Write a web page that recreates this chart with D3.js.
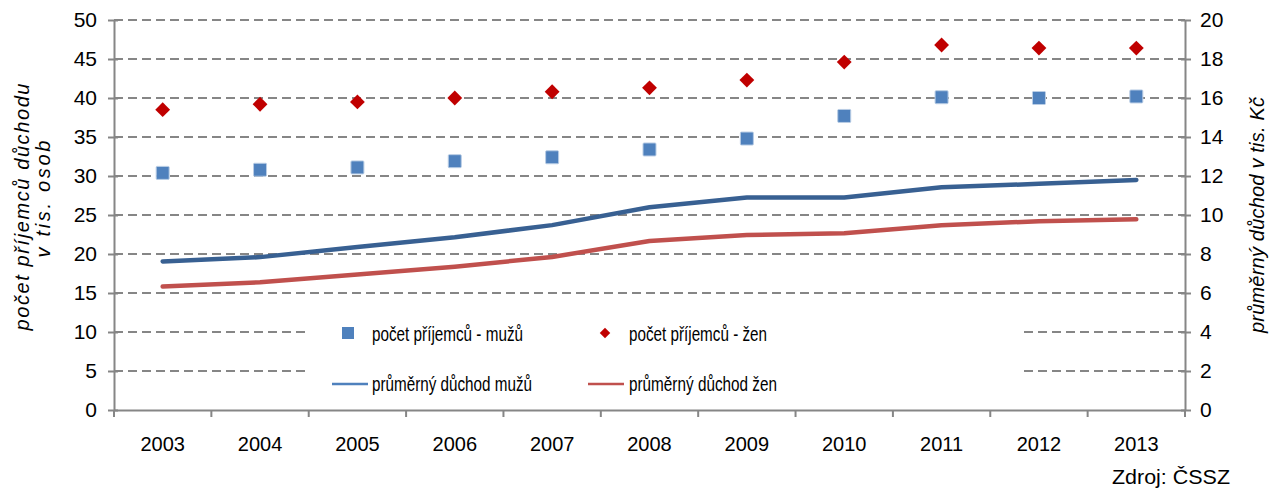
<!DOCTYPE html>
<html><head><meta charset="utf-8">
<script src="https://cdn.jsdelivr.net/npm/d3@7"></script>
<style>body{margin:0;background:#fff}svg{display:block;font-family:"Liberation Sans",Arial,sans-serif}</style>
</head><body>
<script>
const years = ["2003","2004","2005","2006","2007","2008","2009","2010","2011","2012","2013"];
const menCount = [30.4, 30.8, 31.1, 31.9, 32.4, 33.4, 34.8, 37.7, 40.1, 40.0, 40.2];
const womenCount = [38.5, 39.2, 39.5, 40.0, 40.8, 41.3, 42.3, 44.6, 46.8, 46.4, 46.4];
const menPension = [7.62, 7.84, 8.36, 8.86, 9.48, 10.4, 10.9, 10.9, 11.42, 11.6, 11.8];
const womenPension = [6.33, 6.55, 6.95, 7.35, 7.85, 8.67, 8.97, 9.07, 9.48, 9.68, 9.78];
const leftTicks = [0,5,10,15,20,25,30,35,40,45,50];
const rightTicks = [0,2,4,6,8,10,12,14,16,18,20];

const W=1269,H=488;
const FF="Liberation Sans, Arial, sans-serif";
const svg=d3.select("body").append("svg").attr("width",W).attr("height",H);
const x=d3.scaleBand().domain(years).range([114,1185]);
const yL=d3.scaleLinear().domain([0,50]).range([410,20]);
const yR=d3.scaleLinear().domain([0,20]).range([410,20]);
const grey="#868686";

// gridlines
svg.append("g").selectAll("line").data(leftTicks.filter(d=>d>0)).join("line")
 .attr("x1",114).attr("x2",1185).attr("y1",d=>yL(d)).attr("y2",d=>yL(d))
 .attr("stroke",grey).attr("stroke-width",2).attr("stroke-dasharray","9,5");

// legend background
svg.append("rect").attr("x",305).attr("y",316).attr("width",715).attr("height",80).attr("fill","#fff");

// left axis
const gL=svg.append("g").attr("transform","translate(114,0)")
 .call(d3.axisLeft(yL).tickValues(leftTicks).tickSize(6).tickSizeOuter(0));
gL.select(".domain").attr("stroke",grey).attr("stroke-width",2);
gL.selectAll(".tick line").attr("stroke",grey).attr("stroke-width",2).attr("x2",-6).attr("x1",4);
gL.selectAll(".tick text").attr("font-size",21).attr("fill","#000").attr("x",-17).attr("font-family",FF);

// right axis
const gR=svg.append("g").attr("transform","translate(1185,0)")
 .call(d3.axisRight(yR).tickValues(rightTicks).tickSize(6).tickSizeOuter(0));
gR.select(".domain").attr("stroke",grey).attr("stroke-width",2);
gR.selectAll(".tick line").attr("stroke",grey).attr("stroke-width",2).attr("x1",-4).attr("x2",6);
gR.selectAll(".tick text").attr("font-size",21).attr("fill","#000").attr("x",15).attr("font-family",FF);

// bottom axis
const gB=svg.append("g").attr("transform","translate(0,410)")
 .call(d3.axisBottom(x).tickSize(0).tickSizeOuter(0));
gB.select(".domain").attr("stroke",grey).attr("stroke-width",2);
gB.selectAll(".tick text").attr("font-size",20).attr("fill","#000").attr("y",27).attr("font-family",FF);
svg.append("g").selectAll("line").data(years.concat(["end"])).join("line")
 .attr("x1",(d,i)=>114+i*x.bandwidth()).attr("x2",(d,i)=>114+i*x.bandwidth())
 .attr("y1",410).attr("y2",417).attr("stroke",grey).attr("stroke-width",2);

const cx=d=>x(d)+x.bandwidth()/2;
// lines
const lineM=d3.line().x((d,i)=>cx(years[i])).y(d=>yR(d));
svg.append("path").attr("d",lineM(menPension)).attr("fill","none").attr("stroke","#386092").attr("stroke-width",4.5).attr("stroke-linecap","round").attr("stroke-linejoin","round");
svg.append("path").attr("d",lineM(womenPension)).attr("fill","none").attr("stroke","#c0504d").attr("stroke-width",4.5).attr("stroke-linecap","round").attr("stroke-linejoin","round");

// markers
svg.append("g").selectAll("rect").data(menCount).join("rect")
 .attr("x",(d,i)=>cx(years[i])-6.5).attr("y",d=>yL(d)-6.5).attr("width",13).attr("height",13)
 .attr("fill","#4f81bd").attr("stroke","#b9cde5").attr("stroke-width",1).attr("rx",1);
const diamond=d3.symbol().type(d3.symbolSquare).size(110);
svg.append("g").selectAll("path").data(womenCount).join("path")
 .attr("d",diamond).attr("transform",(d,i)=>`translate(${cx(years[i])},${yL(d)}) rotate(45)`)
 .attr("fill","#c00000");

// legend
const lg=svg.append("g").attr("font-size",21).attr("fill","#000");
lg.append("rect").attr("x",342).attr("y",327).attr("width",12).attr("height",12).attr("fill","#4f81bd");
lg.append("text").attr("x",372).attr("y",341).text("počet příjemců - mužů").attr("textLength",151).attr("lengthAdjust","spacingAndGlyphs");
lg.append("path").attr("d",d3.symbol().type(d3.symbolSquare).size(55)).attr("transform","translate(605,333) rotate(45)").attr("fill","#c00000");
lg.append("text").attr("x",629).attr("y",341).text("počet příjemců - žen").attr("textLength",138).attr("lengthAdjust","spacingAndGlyphs");
lg.append("line").attr("x1",332).attr("x2",368).attr("y1",384).attr("y2",384).attr("stroke","#4f81bd").attr("stroke-width",2.5);
lg.append("text").attr("x",372).attr("y",391).text("průměrný důchod mužů").attr("textLength",160).attr("lengthAdjust","spacingAndGlyphs");
lg.append("line").attr("x1",588).attr("x2",624).attr("y1",384).attr("y2",384).attr("stroke","#c0504d").attr("stroke-width",2.5);
lg.append("text").attr("x",629).attr("y",391).text("průměrný důchod žen").attr("textLength",148).attr("lengthAdjust","spacingAndGlyphs");

// axis titles
svg.append("text").attr("transform","translate(29,207) rotate(-90)").attr("text-anchor","middle")
 .attr("font-size",20).attr("font-style","italic").attr("fill","#000")
 .attr("textLength",247).attr("lengthAdjust","spacing").text("počet příjemců důchodu");
svg.append("text").attr("transform","translate(50,199) rotate(-90)").attr("text-anchor","middle")
 .attr("font-size",20).attr("font-style","italic").attr("fill","#000")
 .attr("textLength",117).attr("lengthAdjust","spacing").text("v tis. osob");
svg.append("text").attr("transform","translate(1264,215) rotate(-90)").attr("text-anchor","middle")
 .attr("font-size",20).attr("font-style","italic").attr("fill","#000")
 .attr("textLength",236).attr("lengthAdjust","spacing").text("průměrný důchod v tis. Kč");

svg.append("text").attr("x",1230).attr("y",484).attr("text-anchor","end").attr("font-size",20).attr("fill","#000")
 .text("Zdroj: ČSSZ").attr("textLength",118).attr("lengthAdjust","spacingAndGlyphs");
</script>
</body></html>
